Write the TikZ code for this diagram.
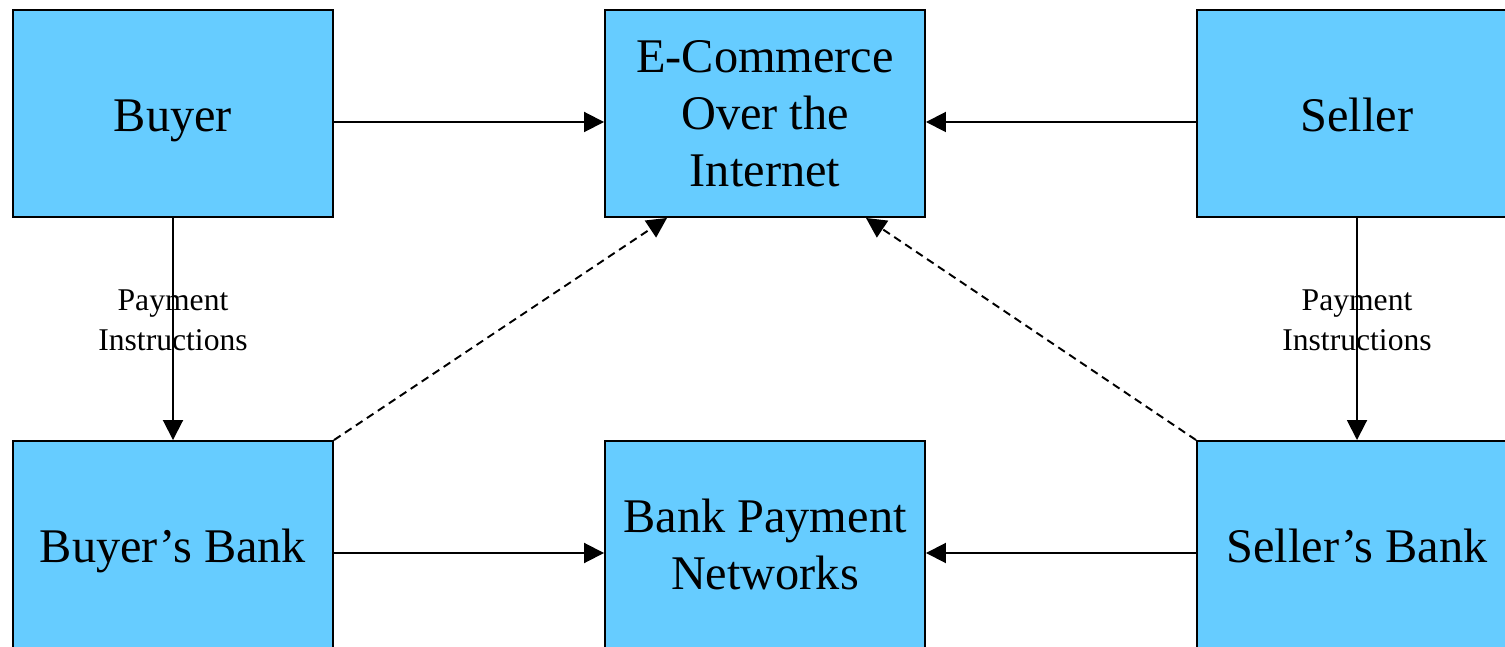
\documentclass[tikz,border=0pt]{standalone}
\usepackage{fontspec}
\setmainfont{Liberation Serif}
\usetikzlibrary{arrows.meta}
\definecolor{boxblue}{RGB}{102,204,255}
\tikzset{
  party/.style={draw,fill=boxblue,line width=1.1pt,minimum width=6.4cm,minimum height=4.14cm,
    inner sep=0pt,align=center,font=\fontsize{27.5}{32.4}\selectfont},
  oneline/.style={text height=27pt,text depth=6pt},
  arr/.style={-{Triangle[length=4mm,width=4mm]},line width=1.1pt},
  dasharr/.style={arr,dash pattern=on 4.5pt off 3pt},
  small/.style={align=center,font=\fontsize{18}{22.8}\selectfont}
}
\begin{document}
\begin{tikzpicture}
\clip (0,0) rectangle (30.1,-12.94);
% top row
\node[party,oneline] (buyer) at (3.46,-2.27) {Buyer};
\node[party] (ecom) at (15.3,-2.27) {E-Commerce\\Over the\\Internet};
\node[party,oneline] (seller) at (27.14,-2.27) {Seller};
% bottom row
\node[party,oneline] (bbank) at (3.46,-10.89) {Buyer's Bank};
\node[party] (net) at (15.3,-10.89) {Bank Payment\\Networks};
\node[party,oneline] (sbank) at (27.14,-10.89) {Seller's Bank};
% arrows
\draw[arr] ([yshift=-1.7mm]buyer.east) -- ([yshift=-1.7mm]ecom.west);
\draw[arr] ([yshift=-1.7mm]seller.west) -- ([yshift=-1.7mm]ecom.east);
\draw[arr] ([yshift=-1.7mm]bbank.east) -- ([yshift=-1.7mm]net.west);
\draw[arr] ([yshift=-1.7mm]sbank.west) -- ([yshift=-1.7mm]net.east);
\draw[arr] (buyer.south) -- node[small,pos=0.46] {Payment\\Instructions} (bbank.north);
\draw[arr] (seller.south) -- node[small,pos=0.46] {Payment\\Instructions} (sbank.north);
\draw[dasharr] (bbank.north east) -- ([xshift=1.26cm]ecom.south west);
\draw[dasharr] (sbank.north west) -- ([xshift=-1.2cm]ecom.south east);
\end{tikzpicture}
\end{document}
